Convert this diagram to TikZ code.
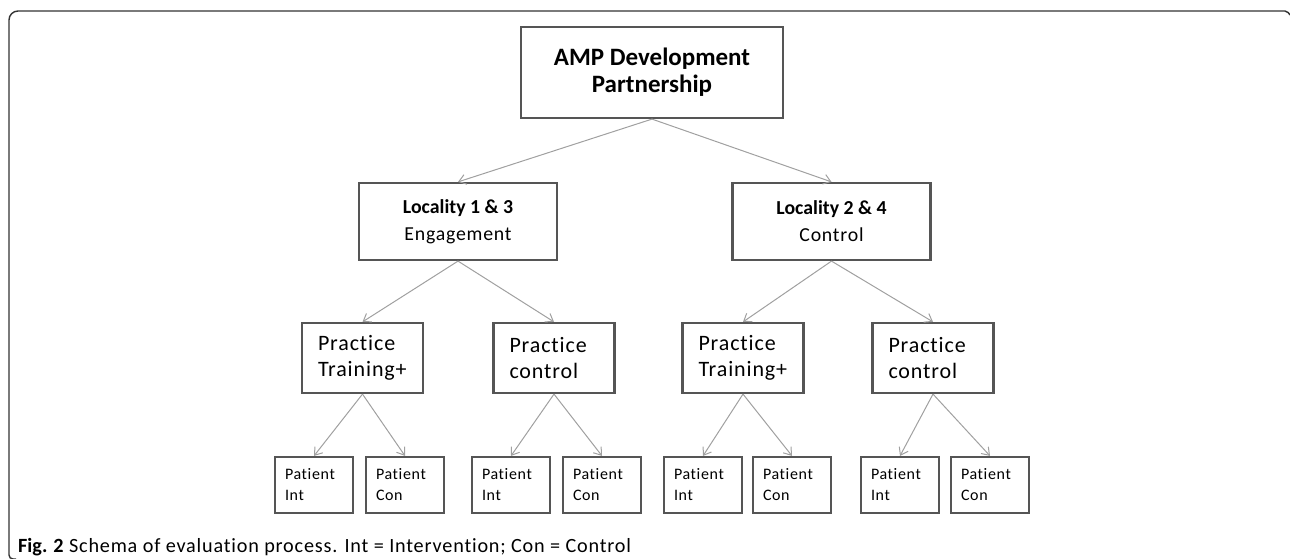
\documentclass[tikz,border=0pt]{standalone}
\usepackage{fontspec}
\setmainfont{Carlito}[Ligatures=NoCommon,UprightFeatures={LetterSpace=4},BoldFeatures={LetterSpace=0}]
\usepackage{xcolor}
\usepackage{tikz}
\usetikzlibrary{arrows.meta}
\definecolor{boxline}{HTML}{555555}
\definecolor{linkgray}{HTML}{A0A0A0}

\begin{document}
\begin{tikzpicture}
[x=1pt,y=-1pt,
frame/.style={draw=black!80,line width=1.4pt},
head/.style={rectangle,draw=boxline,line width=2.2pt,minimum width=262pt,minimum height=91pt,align=center,font=\fontsize{25}{27}\selectfont\bfseries},
loca/.style={rectangle,draw=boxline,line width=2.2pt,minimum width=198pt,minimum height=77pt,align=center,font=\fontsize{19.8}{27}\selectfont},
prac/.style={rectangle,draw=boxline,line width=2.2pt,minimum height=70pt,text width=89pt,inner xsep=16pt,align=left,font=\fontsize{22}{26}\selectfont},
pati/.style={rectangle,draw=boxline,line width=2.2pt,minimum height=56pt,text width=58pt,inner xsep=10pt,align=left,font=\fontsize{16}{21}\selectfont},
link/.style={-{Straight Barb[length=7pt,width=10pt]},draw=linkgray,line width=1pt}]

\useasboundingbox (0,0) rectangle (1290,559);
\draw [frame,rounded corners=2pt] (1290,15) -- (1287,11) [rounded corners=9pt] -- (9,11) [rounded corners=4pt] -- (9,559) -- (16,559);

\node at (652,72.5)  [head] (amp)   {AMP Development\\Partnership};

\node at (458,221.5) [loca] (loconethree) {\textbf{Locality 1 \& 3}\\Engagement};
\node at (831.5,221.5) [loca] (loctwofour) {\textbf{Locality 2 \& 4}\\Control};

\node at (362.5,358) [prac] (pracA) {Practice\\Training+};
\node at (554,358)   [prac] (pracB) {Practice\\control};
\node at (743,358)   [prac] (pracC) {Practice\\Training+};
\node at (933,358)   [prac] (pracD) {Practice\\control};

\node at (314,485) [pati] (patAi) {Patient\\Int};
\node at (405,485) [pati] (patAc) {Patient\\Con};
\node at (511,485) [pati] (patBi) {Patient\\Int};
\node at (602,485) [pati] (patBc) {Patient\\Con};
\node at (703,485) [pati] (patCi) {Patient\\Int};
\node at (792,485) [pati] (patCc) {Patient\\Con};
\node at (900,485) [pati] (patDi) {Patient\\Int};
\node at (990,485) [pati] (patDc) {Patient\\Con};

\draw [link] (amp.south) to (loconethree.north);
\draw [link] (amp.south) to (loctwofour.north);
\draw [link] (loconethree.south) to (pracA.north);
\draw [link] (loconethree.south) to (pracB.north);
\draw [link] (loctwofour.south) to (pracC.north);
\draw [link] (loctwofour.south) to (pracD.north);
\draw [link] (pracA.south) to (patAi.north);
\draw [link] (pracA.south) to (patAc.north);
\draw [link] (pracB.south) to (patBi.north);
\draw [link] (pracB.south) to (patBc.north);
\draw [link] (pracC.south) to (patCi.north);
\draw [link] (pracC.south) to (patCc.north);
\draw [link] (pracD.south) to (patDi.north);
\draw [link] (pracD.south) to (patDc.north);

\node at (18,552) [anchor=base west,inner sep=0pt,font=\fontsize{20.2}{24}\selectfont] (caption) {\textbf{Fig. 2} Schema of evaluation process. Int = Intervention; Con = Control};
\end{tikzpicture}
\end{document}
